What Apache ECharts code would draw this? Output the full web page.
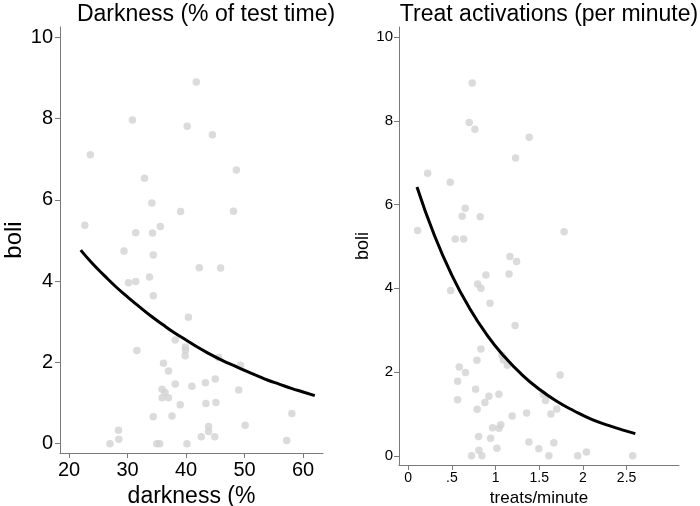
<!DOCTYPE html>
<html>
<head>
<meta charset="utf-8">
<script src="https://cdn.jsdelivr.net/npm/echarts@6/dist/echarts.min.js"></script>
<style>html,body{margin:0;padding:0;background:#fff}#c{width:700px;height:506px}</style>
</head>
<body>
<div id="c"></div>
<script>
// ---- Left panel: darkness (%) vs boli ----
const leftTitle = 'Darkness (% of test time)';
const leftXName = 'darkness (%';
const leftXTicks = [20, 30, 40, 50, 60];
const darknessX = [41.75,30.84,40.2,44.5,23.65,48.6,32.9,34.16,39.06,48.1,22.7,35.6,31.4,34.27,29.4,34.4,42.26,45.9,30.16,31.4,33.75,34.4,40.4,38.15,39.9,39.9,39.85,31.6,45.56,49.3,36.15,37.0,38.15,41.0,43.3,45.0,49.0,35.9,36.4,35.9,37.0,39.0,43.4,45.1,37.6,34.4,58.07,50.1,43.85,43.85,42.6,44.9,57.2,28.45,28.5,27.0,35.0,35.5,40.15];
const darknessBoli = [8.90,7.96,7.81,7.60,7.11,6.73,6.53,5.92,5.71,5.72,5.37,5.34,5.19,5.18,4.74,4.64,4.33,4.32,3.96,3.99,4.10,3.64,3.11,2.55,2.38,2.30,2.16,2.29,2.12,1.93,1.98,1.79,1.47,1.41,1.50,1.59,1.32,1.34,1.26,1.13,1.13,0.96,0.99,1.01,0.68,0.66,0.74,0.45,0.42,0.30,0.17,0.17,0.08,0.33,0.11,0,0,0,0];
const darknessFitX = [22,24,26,28,30,32,34,36,38,40,42,44,46,48,50,52,54,56,58,60,62];
const darknessFitY = [4.76,4.43,4.14,3.86,3.61,3.37,3.14,2.93,2.73,2.55,2.37,2.21,2.06,1.93,1.80,1.68,1.56,1.46,1.36,1.27,1.18];

// ---- Right panel: treats/minute vs boli ----
const rightTitle = 'Treat activations (per minute)';
const rightXName = 'treats/minute';
const rightXTicks = [0, 0.5, 1, 1.5, 2, 2.5];
const rightXTickLabels = ['0', '.5', '1', '1.5', '2', '2.5'];
const treatsX = [0.732,0.698,0.763,1.385,1.229,0.222,0.481,0.652,0.618,0.824,0.107,1.785,0.538,0.634,1.164,1.240,0.889,1.154,0.485,0.794,0.832,0.936,1.224,0.832,1.072,1.09,1.135,0.786,0.584,0.655,0.565,0.771,0.565,0.923,0.877,1.038,0.789,1.739,1.572,1.545,1.70,1.633,1.19,1.355,0.965,1.04,1.06,0.805,0.943,1.381,1.667,1.495,1.015,0.809,0.725,0.843,1.61,1.94,2.04,2.57];
const treatsBoli = [8.90,7.96,7.80,7.61,7.11,6.75,6.53,5.91,5.72,5.71,5.38,5.35,5.18,5.18,4.76,4.64,4.32,4.34,3.95,4.10,4.00,3.64,3.11,2.55,2.40,2.29,2.16,2.28,2.12,1.99,1.78,1.59,1.34,1.42,1.27,1.47,1.11,1.93,1.32,1.47,1.12,1.00,0.95,1.02,0.67,0.66,0.74,0.46,0.42,0.33,0.31,0.17,0.18,0.13,0,0,0,0,0.09,0];
const treatsFitX = [0.1,0.3,0.5,0.7,0.9,1.1,1.3,1.5,1.7,1.9,2.1,2.3,2.5,2.6];
const treatsFitY = [6.42,5.26,4.31,3.53,2.89,2.37,1.94,1.59,1.30,1.07,0.87,0.72,0.59,0.53];

const yTicks = [0, 2, 4, 6, 8, 10];
const yName = 'boli';

const FONT = '"Liberation Sans", Arial, Helvetica, sans-serif';
const axisGray = '#7a7a7a';
const ptColor = '#d2d2d2';

function zip(a, b) { return a.map((v, i) => [v, b[i]]); }

const chart = echarts.init(document.getElementById('c'), null, {renderer: 'canvas'});
chart.setOption({
  animation: false,
  backgroundColor: '#fff',
  title: [
    {text: leftTitle, left: 201, top: -2, textAlign: 'center',
     textStyle: {fontFamily: FONT, fontSize: 23, fontWeight: 'normal', color: '#000'}},
    {text: rightTitle, left: 544, top: -2, textAlign: 'center',
     textStyle: {fontFamily: FONT, fontSize: 23, fontWeight: 'normal', color: '#000'}}
  ],
  grid: [
    {left: 60, top: 27, width: 263, height: 426, containLabel: false, outerBoundsMode: 'none'},
    {left: 399, top: 27, width: 280, height: 438, containLabel: false, outerBoundsMode: 'none'}
  ],
  xAxis: [
    {gridIndex: 0, type: 'value', min: 18.46, max: 63.4,
     name: leftXName, nameLocation: 'middle', nameGap: 24,
     nameTextStyle: {fontFamily: FONT, fontSize: 23, color: '#000'},
     axisLine: {onZero: false, lineStyle: {color: axisGray, width: 1}},
     axisTick: {show: true, length: 5, customValues: leftXTicks, lineStyle: {color: axisGray}},
     axisLabel: {customValues: leftXTicks, fontFamily: FONT, fontSize: 20, color: '#000', margin: 7},
     splitLine: {show: false}},
    {gridIndex: 1, type: 'value', min: -0.106, max: 3.10,
     name: rightXName, nameLocation: 'middle', nameGap: 22,
     nameTextStyle: {fontFamily: FONT, fontSize: 17, color: '#000'},
     axisLine: {onZero: false, lineStyle: {color: axisGray, width: 1}},
     axisTick: {show: true, length: 5, customValues: rightXTicks, lineStyle: {color: axisGray}},
     axisLabel: {customValues: rightXTicks, fontFamily: FONT, fontSize: 14, color: '#000', margin: 6,
       formatter: v => rightXTickLabels[rightXTicks.indexOf(v)] ?? String(v)},
     splitLine: {show: false}}
  ],
  yAxis: [
    {gridIndex: 0, type: 'value', min: -0.23, max: 10.25,
     name: yName, nameLocation: 'middle', nameGap: 34, nameRotate: 90,
     nameTextStyle: {fontFamily: FONT, fontSize: 24, color: '#000'},
     axisLine: {show: true, onZero: false, lineStyle: {color: axisGray, width: 1}},
     axisTick: {show: true, length: 5, customValues: yTicks, lineStyle: {color: axisGray}},
     axisLabel: {customValues: yTicks, fontFamily: FONT, fontSize: 20, color: '#000', margin: 7},
     splitLine: {show: false}},
    {gridIndex: 1, type: 'value', min: -0.22, max: 10.24,
     name: yName, nameLocation: 'middle', nameGap: 27, nameRotate: 90,
     nameTextStyle: {fontFamily: FONT, fontSize: 18, color: '#000'},
     axisLine: {show: true, onZero: false, lineStyle: {color: axisGray, width: 1}},
     axisTick: {show: true, length: 5, customValues: yTicks, lineStyle: {color: axisGray}},
     axisLabel: {customValues: yTicks, fontFamily: FONT, fontSize: 15, color: '#000', margin: 6},
     splitLine: {show: false}}
  ],
  series: [
    {type: 'scatter', xAxisIndex: 0, yAxisIndex: 0, data: zip(darknessX, darknessBoli),
     symbolSize: 7.5, itemStyle: {color: ptColor}, z: 2},
    {type: 'line', xAxisIndex: 0, yAxisIndex: 0, data: zip(darknessFitX, darknessFitY),
     smooth: true, showSymbol: false, lineStyle: {color: '#000', width: 3}, z: 3},
    {type: 'scatter', xAxisIndex: 1, yAxisIndex: 1, data: zip(treatsX, treatsBoli),
     symbolSize: 7.5, itemStyle: {color: ptColor}, z: 2},
    {type: 'line', xAxisIndex: 1, yAxisIndex: 1, data: zip(treatsFitX, treatsFitY),
     smooth: true, showSymbol: false, lineStyle: {color: '#000', width: 3}, z: 3}
  ]
});
</script>
</body>
</html>
